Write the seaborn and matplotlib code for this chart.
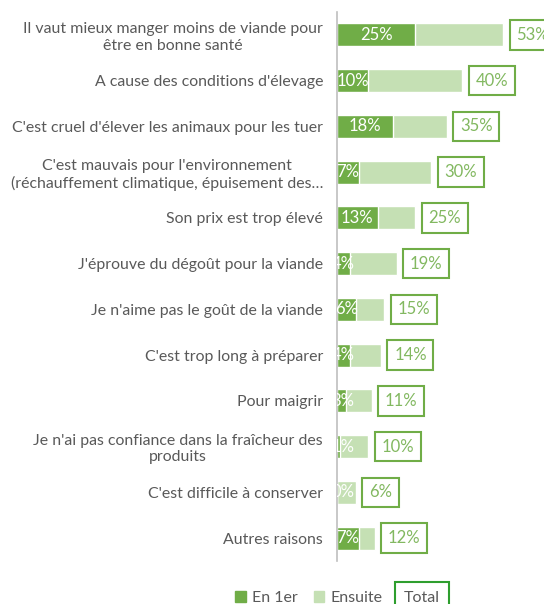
import matplotlib
matplotlib.use("Agg")
import matplotlib.pyplot as plt
import seaborn as sns
import pandas as pd
from matplotlib.patches import Patch

categories = [
    "Il vaut mieux manger moins de viande pour\nêtre en bonne santé",
    "A cause des conditions d'élevage",
    "C'est cruel d'élever les animaux pour les tuer",
    "C'est mauvais pour l'environnement\n(réchauffement climatique, épuisement des…",
    "Son prix est trop élevé",
    "J'éprouve du dégoût pour la viande",
    "Je n'aime pas le goût de la viande",
    "C'est trop long à préparer",
    "Pour maigrir",
    "Je n'ai pas confiance dans la fraîcheur des\nproduits",
    "C'est difficile à conserver",
    "Autres raisons",
]
en_1er = [25, 10, 18, 7, 13, 4, 6, 4, 3, 1, 0, 7]
ensuite = [28, 30, 17, 23, 12, 15, 9, 10, 8, 9, 6, 5]
total = [53, 40, 35, 30, 25, 19, 15, 14, 11, 10, 6, 12]

DARK = "#70AD47"
LIGHT = "#C5E0B4"
TXT = "#595959"

sns.set_theme(style="white")
plt.rcParams["font.family"] = ["Lato", "DejaVu Sans"]

df = pd.DataFrame({"cat": categories, "first": en_1er, "ensuite": ensuite, "total": total})
df["stack"] = df["first"] + df["ensuite"]

fig = plt.figure(figsize=(5.44, 6.04), dpi=100)
ax = fig.add_axes([337 / 544, 1 - 561 / 604, (544 - 337) / 544, (561 - 12) / 604])

sns.barplot(data=df, y="cat", x="stack", color=LIGHT, orient="h", width=0.5,
            saturation=1, ax=ax)
sns.barplot(data=df, y="cat", x="first", color=DARK, orient="h", width=0.5,
            saturation=1, ax=ax)

ax.set_xlim(0, 66)
ax.set_ylim(len(categories) - 0.5, -0.5)
ax.set_xlabel("")
ax.set_ylabel("")
ax.set_xticks([])
for s in ["top", "right", "bottom"]:
    ax.spines[s].set_visible(False)
ax.spines["left"].set_color("#BFBFBF")
ax.spines["left"].set_linewidth(1.2)

ax.tick_params(axis="y", length=0, pad=10, labelsize=11.4, labelcolor=TXT)
for lab in ax.get_yticklabels():
    lab.set_multialignment("center")

for i, (f, t) in enumerate(zip(df["first"], df["total"])):
    ax.text(max(f / 2, 1.8), i, f"{f}%", ha="center", va="center", color="white",
            fontsize=12, clip_on=True)
    ax.annotate(f"{t}%", xy=(t, i), xytext=(9.5, 0), textcoords="offset points",
                ha="left", va="center", color="#82B860", fontsize=12,
                annotation_clip=False,
                bbox=dict(boxstyle="square,pad=0.4", fc="white", ec=DARK, lw=1.5))

handles = [Patch(color=DARK, label="En 1er"), Patch(color=LIGHT, label="Ensuite")]
fig.legend(handles=handles, loc="center", bbox_to_anchor=(309 / 544, 1 - 598 / 604),
           ncol=2, frameon=False, handlelength=0.65, handleheight=0.65,
           handletextpad=0.4, columnspacing=1.0, fontsize=11.5, labelcolor=TXT)
fig.text(422 / 544, 1 - 598 / 604, "Total", ha="center", va="center", fontsize=11.5,
         color=TXT, bbox=dict(boxstyle="square,pad=0.55", fc="white", ec="#2E9E2E", lw=1.5))

fig.savefig("out.png", dpi=100)
